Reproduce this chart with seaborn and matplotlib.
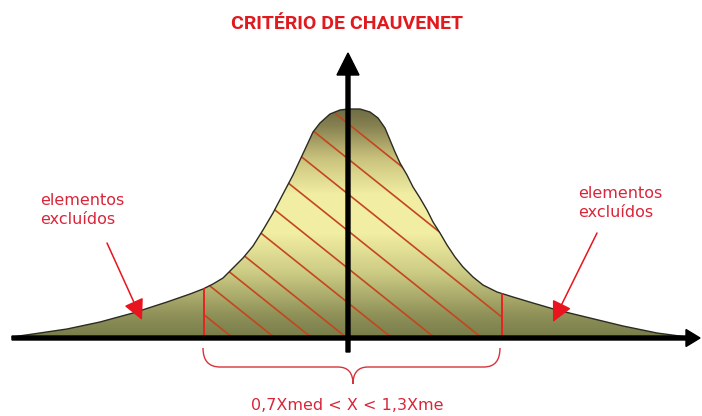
import numpy as np
import pandas as pd
import matplotlib
matplotlib.use("Agg")
import matplotlib.pyplot as plt
import seaborn as sns
from matplotlib.path import Path
from matplotlib.patches import PathPatch, Polygon
from matplotlib.colors import LinearSegmentedColormap

# Bell curve: x from the vertical axis, height above the baseline
LEFT_X = [-336, -315, -281, -248, -215, -181, -158, -145, -135, -125, -115, -105, -95, -85,
          -75, -65, -55, -48, -41, -35, -28, -18, -8]
LEFT_H = [1, 4, 9, 16, 25, 36, 44, 49, 54, 60, 70, 80, 92, 108,
          125, 144, 163, 178, 193, 206, 215, 224, 228]
RIGHT_X = [0, 12, 22, 30, 37, 42, 47, 52, 59, 65, 72, 79, 85, 92, 99, 107, 115, 125,
           135, 149, 165, 185, 209, 242, 275, 309, 339]
RIGHT_H = [229, 229, 226, 220, 210, 198, 186, 175, 163, 151, 140, 128, 116, 105, 93, 81, 71, 61,
           53, 46, 41, 35, 28, 20, 12, 5, 1]
CURVE_X = LEFT_X + RIGHT_X
CURVE_H = LEFT_H + RIGHT_H

# accepted band 0,7Xmed .. 1,3Xme (red vertical lines)
BAND = [-144, 154]

# baseline crossings of the red hatch lines, and their slope
HATCH_X0 = [-115, -73, -36, -1, 44, 87, 134, 180, 224, 268]
HATCH_SLOPE = 0.8

TITLE = "CRITÉRIO DE CHAUVENET"
SIDE_LABEL = "elementos\nexcluídos"
RANGE_LABEL = "0,7Xmed < X < 1,3Xme"

RED = "#d9263a"

sns.set_theme(style="white")
plt.rcParams["font.family"] = ["DejaVu Sans"]

fig = plt.figure(figsize=(7.02, 4.16), dpi=100)
ax = fig.add_axes([0, 0, 1, 1])
ax.set_axis_off()

df = pd.DataFrame({"x": CURVE_X, "h": CURVE_H})

# --- gradient fill under the curve ---
verts = [(CURVE_X[0], 0)] + list(zip(CURVE_X, CURVE_H)) + [(CURVE_X[-1], 0)]
shape = Polygon(verts, closed=True, facecolor="none", edgecolor="none")
ax.add_patch(shape)

cmap = LinearSegmentedColormap.from_list("olive", [
    (0.00, "#777c4a"), (0.10, "#8f9158"), (0.28, "#cccb84"), (0.45, "#f1eda2"),
    (0.62, "#f2eea3"), (0.78, "#c9c27d"), (0.92, "#868150"), (1.00, "#6d6b45")])
grad = np.linspace(0, 1, 256).reshape(-1, 1)
img = ax.imshow(grad, extent=(-348, 354, 0, max(CURVE_H) + 2), origin="lower",
                aspect="auto", cmap=cmap, zorder=1)
img.set_clip_path(shape)

# --- hatch in the accepted band ---
for x0 in HATCH_X0:
    xa = BAND[0]
    xb = min(BAND[1], x0)
    ln, = ax.plot([xa, xb], [HATCH_SLOPE * (x0 - xa), HATCH_SLOPE * (x0 - xb)],
                  color="#c4461e", lw=1.2, zorder=2)
    ln.set_clip_path(shape)

# --- curve outline ---
sns.lineplot(data=df, x="x", y="h", color="#2b2b22", lw=1.0, ax=ax, sort=False, zorder=3)

# red vertical limits
band_h = np.interp(BAND, CURVE_X, CURVE_H)
for bx, bh in zip(BAND, band_h):
    ax.plot([bx, bx], [0, bh], color="#e8231e", lw=1.4, zorder=3)

# --- axes with arrow heads ---
ax.arrow(-336, 0, 688, 0, width=4, head_width=17, head_length=14,
         length_includes_head=True, color="black", zorder=5)
ax.arrow(0, -14, 0, 299, width=4, head_width=22, head_length=22,
         length_includes_head=True, color="black", zorder=5)

# --- texts ---
ax.text(-1, 314, TITLE, ha="center", va="center", fontsize=14, fontweight="bold",
        color="#e01a1e", family=["Roboto", "DejaVu Sans"])
ax.text(-308, 128, SIDE_LABEL, ha="left", va="center", fontsize=11.5,
        color=RED, linespacing=1.35)
ax.text(230, 135, SIDE_LABEL, ha="left", va="center", fontsize=11.5,
        color=RED, linespacing=1.35)
ax.text(-1, -67, RANGE_LABEL, ha="center", va="center", fontsize=11.5, color=RED)

arrow_kw = dict(arrowstyle="-|>,head_length=0.9,head_width=0.45", color="#e8141e",
                lw=1.1, shrinkA=0, shrinkB=0, mutation_scale=14)
ax.annotate("", xy=(-206, 18), xytext=(-241, 95), arrowprops=arrow_kw, zorder=4)
ax.annotate("", xy=(205, 16), xytext=(249, 105), arrowprops=arrow_kw, zorder=4)

# --- brace under the band ---
mid = (BAND[0] + BAND[1]) / 2
top, flat, tip = -10, -29, -46
codes = [Path.MOVETO, Path.CURVE3, Path.CURVE3, Path.LINETO, Path.CURVE3, Path.CURVE3,
         Path.CURVE3, Path.CURVE3, Path.LINETO, Path.CURVE3, Path.CURVE3]
pts = [(BAND[0] - 1, top), (BAND[0] - 1, flat), (BAND[0] + 16, flat), (mid - 15, flat),
       (mid, flat), (mid, tip), (mid, flat), (mid + 15, flat), (BAND[1] - 18, flat),
       (BAND[1] - 2, flat), (BAND[1] - 2, top)]
ax.add_patch(PathPatch(Path(pts, codes), facecolor="none", edgecolor="#d8333a", lw=1.0, zorder=4))

ax.set_xlim(-348, 354)
ax.set_ylim(-78, 338)

fig.savefig("out.png", dpi=100)
plt.close(fig)
